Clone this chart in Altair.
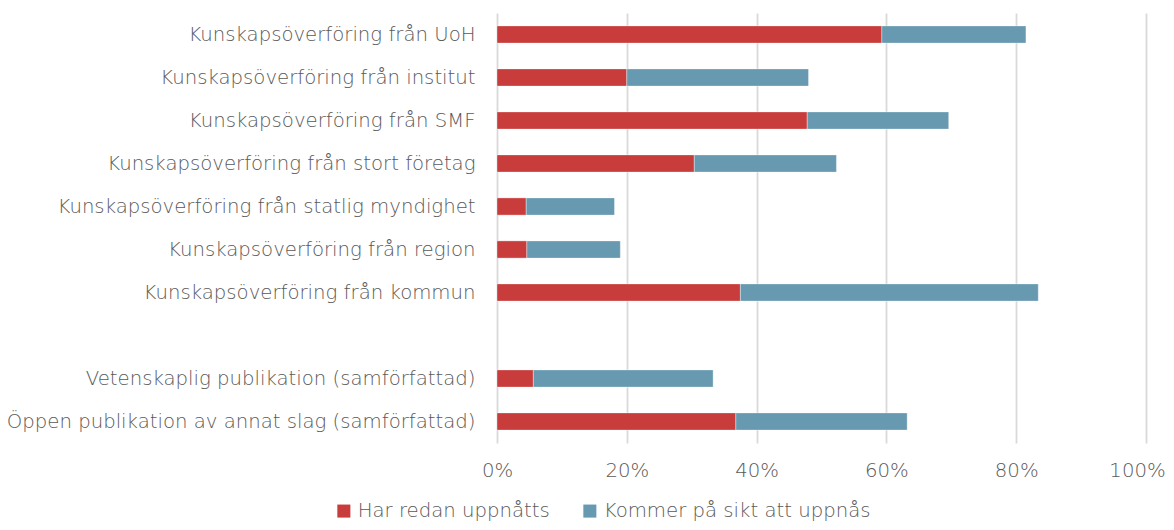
import altair as alt
import pandas as pd

categories = [
    "Kunskapsöverföring från UoH",
    "Kunskapsöverföring från institut",
    "Kunskapsöverföring från SMF",
    "Kunskapsöverföring från stort företag",
    "Kunskapsöverföring från statlig myndighet",
    "Kunskapsöverföring från region",
    "Kunskapsöverföring från kommun",
    " ",
    "Vetenskaplig publikation (samförfattad)",
    "Öppen publikation av annat slag (samförfattad)",
]
har_redan = [0.593, 0.200, 0.478, 0.304, 0.045, 0.046, 0.375, 0.0, 0.056, 0.368]
kommer = [0.222, 0.280, 0.218, 0.219, 0.136, 0.144, 0.459, 0.0, 0.277, 0.264]
series = ["Har redan uppnåtts", "Kommer på sikt att uppnås"]
colors = ["#C83C3B", "#6799B0"]

rows = []
for c, a, b in zip(categories, har_redan, kommer):
    if a > 0:
        rows.append({"cat": c, "serie": series[0], "ord": 0, "val": a})
    if b > 0:
        rows.append({"cat": c, "serie": series[1], "ord": 1, "val": b})
df = pd.DataFrame(rows)

FONT = "DejaVu Sans"
W = 200
FS = 19.7
TXT = "#595959"

chart = alt.Chart(df).mark_bar(stroke="#ffffff", strokeWidth=0.6, strokeOpacity=0.6).encode(
    y=alt.Y("cat:N", sort=categories, title=None,
            scale=alt.Scale(domain=categories, paddingInner=0.6, paddingOuter=0.3),
            axis=alt.Axis(labelFont=FONT, labelFontSize=FS, labelFontWeight=W, labelColor=TXT,
                          labelPadding=22, ticks=False, domain=False,
                          labelLimit=600, grid=False)),
    x=alt.X("val:Q", stack="zero", title=None,
            scale=alt.Scale(domain=[0, 1], nice=False),
            axis=alt.Axis(format="%", values=[0, 0.2, 0.4, 0.6, 0.8, 1.0],
                          labelFont=FONT, labelFontSize=FS, labelFontWeight=W, labelColor=TXT,
                          labelPadding=17, ticks=False, domain=False, labelFlush=False,
                          labelOffset={"condition": {"test": "datum.value === 1", "value": -9},
                                       "value": 0},
                          grid=True, gridColor="#d9d9d9", gridWidth=1.8)),
    color=alt.Color("serie:N", sort=series,
                    scale=alt.Scale(domain=series, range=colors),
                    legend=alt.Legend(title=None, orient="none", direction="horizontal",
                                      legendX=-163, legendY=488,
                                      symbolType="square", symbolSize=170,
                                      symbolStrokeWidth=0, labelLimit=600,
                                      labelFont=FONT, labelFontSize=FS, labelFontWeight=W,
                                      labelColor=TXT,
                                      columnPadding=30, labelOffset=4)),
    order=alt.Order("ord:Q"),
).properties(
    width=649, height=430,
    autosize=alt.AutoSizeParams(type="none"),
    padding={"left": 489, "top": 5, "right": 20, "bottom": 79},
).configure_view(stroke=None)

chart.save("out.html", embed_options={"renderer": "svg", "actions": False})
